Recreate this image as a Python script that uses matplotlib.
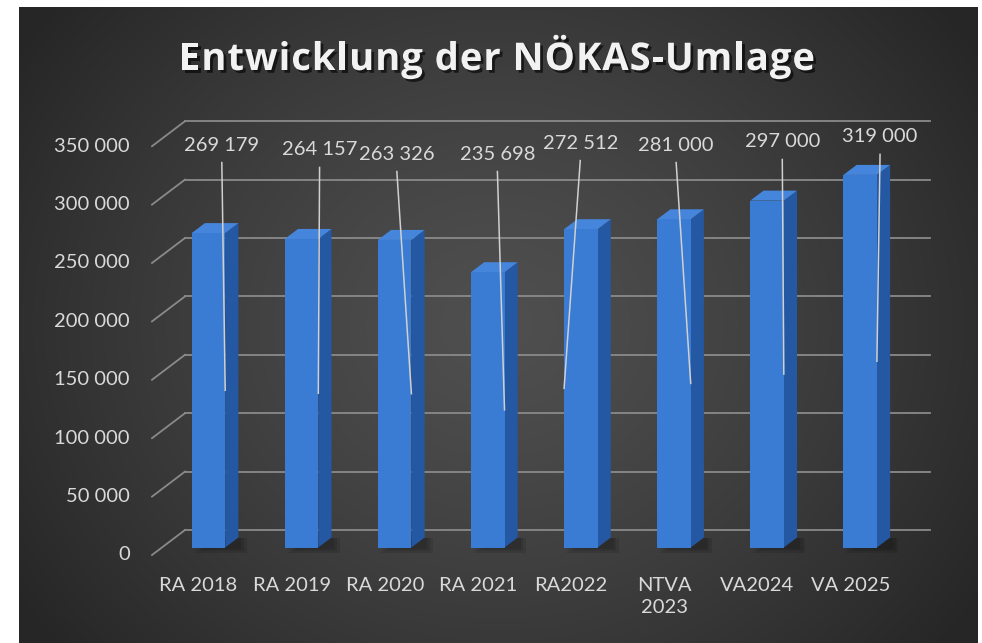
import numpy as np
import matplotlib.pyplot as plt
from matplotlib.patches import Polygon
import matplotlib.patheffects as pe
from matplotlib.font_manager import FontProperties, findfont, get_font

# ---------------------------------------------------------------------------
# data
# ---------------------------------------------------------------------------
categories = ['RA 2018', 'RA 2019', 'RA 2020', 'RA 2021', 'RA2022',
              'NTVA\n2023', 'VA2024', 'VA 2025']
values = [269179, 264157, 263326, 235698, 272512, 281000, 297000, 319000]
yticks = [0, 50000, 100000, 150000, 200000, 250000, 300000, 350000]
title = 'Entwicklung der NÖKAS-Umlage'


def fmt(v):
    return f'{v:,}'.replace(',', ' ')


value_labels = [fmt(v) for v in values]
ytick_labels = [fmt(v) for v in yticks]

# ---------------------------------------------------------------------------
# layout (pseudo 3D column chart)
# ---------------------------------------------------------------------------
W, H = 982, 643
px_x = 93.1                 # pixels per category
px_v = 58.4 / 50000         # pixels per unit of value
x0_px, y0_px = 152, 555     # front-left corner of the floor
depth_dx, depth_dy = 33 / px_x, 25 / px_v   # full depth offset in data units
f_front, f_back = 0.3, 0.7  # bar depth position
half_w = 0.18

# label placement (offset from category, height in value units)
lab_dx = [0.25, 0.30, 0.13, 0.21, 0.10, 0.13, 0.27, 0.32]
lab_y = [351000, 346800, 343300, 343300, 352700, 351000, 353600, 358000]
lead_end = [1, 1, 1, 1, 0, 1, 1, 1]   # leader line ends at right(1)/left(0) edge

txt_col = '#d9d9d9'
grid_col = '#8a8a8a'
font = ['Lato', 'DejaVu Sans']

fig = plt.figure(figsize=(W / 100, H / 100), dpi=100)
fig.patch.set_facecolor('white')

# background with radial gradient
bg = fig.add_axes([19 / W, 0, 959 / W, 636 / H])
gx, gy = np.meshgrid(np.linspace(0, 1, 400), np.linspace(0, 1, 300))
r = np.clip(np.hypot((gx - 0.5) / 0.6, (gy - 0.5) / 0.8), 0, 1)
shade = 0.31 - 0.16 * r ** 1.3
bg.imshow(np.dstack([shade] * 3), extent=(0, 1, 0, 1), aspect='auto', origin='lower')
bg.set_axis_off()

# main axes, mapped onto the whole figure
ax = fig.add_axes([0, 0, 1, 1])
ax.set_xlim(-0.5 - x0_px / px_x, -0.5 + (W - x0_px) / px_x)
ax.set_ylim(-(H - y0_px) / px_v, y0_px / px_v)
ax.set_axis_off()
ax.patch.set_alpha(0)

n = len(categories)
# gridlines: diagonal side wall + horizontal back wall
for v in yticks:
    ax.plot([-0.5, -0.5 + depth_dx], [v, v + depth_dy], color=grid_col, lw=1.3, zorder=1)
    ax.plot([-0.5 + depth_dx, n - 0.5 + depth_dx], [v + depth_dy] * 2,
            color=grid_col, lw=1.3, zorder=1)

# tick labels
for v, t in zip(yticks, ytick_labels):
    ax.text(-0.5 - 22 / px_x, v, t, ha='right', va='center', color=txt_col,
            fontsize=14.5, family=font)

# bars
for i, v in enumerate(values):
    xl, xr = i - half_w, i + half_w
    fx, fy = f_front * depth_dx, f_front * depth_dy
    bx, by = f_back * depth_dx, f_back * depth_dy
    # soft shadow on the floor
    for k in range(3):
        g = 0.03 * (3 - k)
        ax.add_patch(Polygon([(xl + fx + 0.02, fy - 1500 * (3 - k)), (xr + bx + g, fy - 1500 * (3 - k)),
                              (xr + bx + g, by), (xr + fx, by)],
                             closed=True, fc='black', ec='none', alpha=0.1, zorder=2))
    ax.add_patch(Polygon([(xr + fx, fy), (xr + bx, by), (xr + bx, v + by), (xr + fx, v + fy)],
                         closed=True, fc='#2458a3', ec='none', zorder=3))
    ax.add_patch(Polygon([(xl + fx, v + fy), (xr + fx, v + fy), (xr + bx, v + by), (xl + bx, v + by)],
                         closed=True, fc='#4585db', ec='none', zorder=3))
    ax.add_patch(Polygon([(xl + fx, fy), (xr + fx, fy), (xr + fx, v + fy), (xl + fx, v + fy)],
                         closed=True, fc='#3a7bd3', ec='none', zorder=4))

    # data label with leader line
    lx = i + lab_dx[i]
    ax.text(lx, lab_y[i], value_labels[i], ha='center', va='center', color=txt_col,
            fontsize=14.5, family=font, zorder=6)
    ex = (xr if lead_end[i] else xl) + fx
    ax.plot([lx, ex], [lab_y[i] - 15000, v / 2 + fy], color='#d0d0d0', lw=1.1, zorder=5)

    # category labels
    ax.text(i, -19000, categories[i], ha='center', va='top', color=txt_col,
            fontsize=14.5, family=font, linespacing=1.35)

# title: bold with extra letter spacing, drawn glyph by glyph
title_fs = 27.5
prop = FontProperties(family=['Open Sans', 'DejaVu Sans'], weight='bold', size=title_fs)
ft = get_font(findfont(prop))
ft.set_size(title_fs, 100)
adv = [ft.load_char(ord(c)).linearHoriAdvance / 65536 for c in title]
spacing = (636 - sum(adv)) / (len(title) - 1)
xpos = 497 - 636 / 2
shadow = [pe.withSimplePatchShadow(offset=(2, -2), shadow_rgbFace='black', alpha=0.6)]
for c, a in zip(title, adv):
    fig.text(xpos / W, 1 - 70 / H, c, ha='left', va='baseline', color='#f2f2f2',
             fontproperties=prop, path_effects=shadow)
    xpos += a + spacing

fig.savefig('out.png', dpi=100)
